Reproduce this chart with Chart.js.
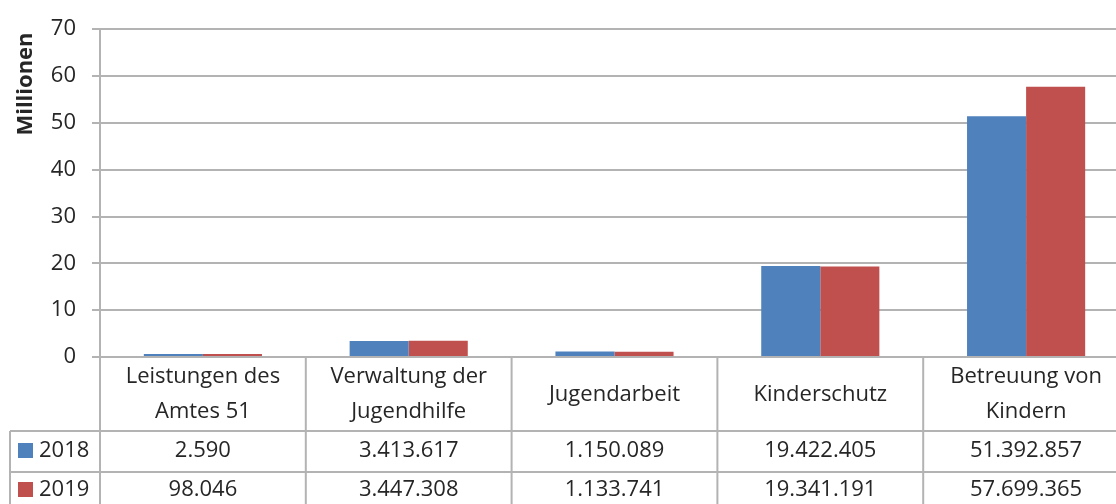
<!DOCTYPE html>
<html>
<head>
<meta charset="utf-8">
<script src="https://cdn.jsdelivr.net/npm/chart.js@4"></script>
<style>
  html, body { margin: 0; padding: 0; background: #fff; overflow: hidden; }
  #wrap { width: 1129px; height: 504px; }
</style>
</head>
<body>
<div id="wrap"><canvas id="chart"></canvas></div>
<script>
// data (euros), chart shows millions
var categories = [
    ["Leistungen des", "Amtes 51"],
    ["Verwaltung der", "Jugendhilfe"],
    ["Jugendarbeit"],
    ["Kinderschutz"],
    ["Betreuung von", "Kindern"]
];
var seriesNames = ["2018", "2019"];
var values2018 = [2590, 3413617, 1150089, 19422405, 51392857];
var values2019 = [98046, 3447308, 1133741, 19341191, 57699365];
var yTicks = [0, 10, 20, 30, 40, 50, 60, 70];
var axisTitle = "Millionen";

var colors = ["#4F81BD", "#C0504D"];
var textColor = "#262626";
var lineColor = "#b3b3b3";
var font = "'Open Sans', sans-serif";

function fmt(v) {
    return String(v).replace(/\B(?=(\d{3})+(?!\d))/g, ".");
}
function toMio(arr) {
    return arr.map(function(v) { return v / 1e6; });
}

// draws the data table under the plot and the axis title
var tablePlugin = {
    id: "dataTable",
    afterDraw: function(chart) {
        var ctx = chart.ctx;
        var x = chart.scales.x;
        var area = chart.chartArea;
        var w = (area.right - area.left) / categories.length;
        var rowTop = [area.bottom, 431, 472];
        var rowMid = [394.5, 451, 490];
        var bottom = chart.height;
        var rows = [values2018, values2019];

        ctx.save();
        ctx.strokeStyle = lineColor;
        ctx.lineWidth = 2;
        ctx.beginPath();
        // row lines
        ctx.moveTo(10, rowTop[1]); ctx.lineTo(area.right, rowTop[1]);
        ctx.moveTo(10, rowTop[2]); ctx.lineTo(area.right, rowTop[2]);
        // left legend box edge
        ctx.moveTo(10, rowTop[1]); ctx.lineTo(10, bottom);
        // column lines
        for (var i = 0; i <= categories.length; i++) {
            var xx = area.left + i * w;
            ctx.moveTo(xx, area.bottom); ctx.lineTo(xx, bottom);
        }
        ctx.stroke();

        ctx.fillStyle = textColor;
        ctx.font = "22px " + font;
        ctx.textAlign = "center";
        ctx.textBaseline = "middle";
        categories.forEach(function(lines, i) {
            var cx = x.getPixelForValue(i);
            var lh = 35;
            var y0 = rowMid[0] - (lines.length - 1) * lh / 2;
            lines.forEach(function(t, j) {
                ctx.fillText(t, cx, y0 + j * lh);
            });
            rows.forEach(function(r, k) {
                ctx.fillText(fmt(r[i]), cx, rowMid[k + 1]);
            });
        });

        // legend keys
        ctx.textAlign = "left";
        seriesNames.forEach(function(n, k) {
            ctx.fillStyle = colors[k];
            ctx.fillRect(18, rowMid[k + 1] - 8, 15, 15);
            ctx.fillStyle = textColor;
            ctx.fillText(n, 39, rowMid[k + 1]);
        });

        // y axis title
        ctx.translate(26, 84);
        ctx.rotate(-Math.PI / 2);
        ctx.font = "bold 22px " + font;
        ctx.textAlign = "center";
        ctx.fillText(axisTitle, 0, 0);
        ctx.restore();
    }
};

new Chart(document.getElementById("chart"), {
    type: "bar",
    data: {
        labels: categories,
        datasets: [
            { label: seriesNames[0], data: toMio(values2018), backgroundColor: colors[0] },
            { label: seriesNames[1], data: toMio(values2019), backgroundColor: colors[1] }
        ]
    },
    options: {
        responsive: true,
        maintainAspectRatio: false,
        animation: false,
        layout: { padding: { top: 23, bottom: 147, left: 0, right: 0 } },
        datasets: { bar: { categoryPercentage: 0.574, barPercentage: 1.0, minBarLength: 3 } },
        plugins: { legend: { display: false }, tooltip: { enabled: false } },
        scales: {
            x: { display: false },
            y: {
                min: 0,
                max: 70,
                afterFit: function(scale) { scale.width = 100; },
                afterBuildTicks: function(scale) {
                    scale.ticks = yTicks.map(function(v) { return { value: v }; });
                },
                grid: { color: lineColor, lineWidth: 2, tickLength: 8 },
                border: { color: lineColor, width: 2 },
                ticks: { color: textColor, padding: 16, font: { family: font, size: 22 } }
            }
        }
    },
    plugins: [tablePlugin]
});
</script>
</body>
</html>
